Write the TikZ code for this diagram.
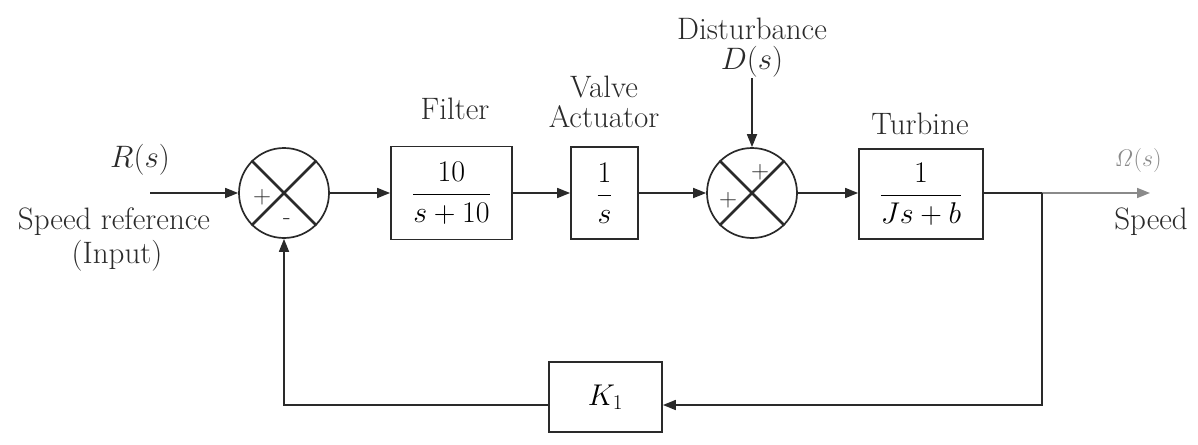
\RequirePackage{fix-cm}
\documentclass[tikz,border=0pt]{standalone}
\usetikzlibrary{arrows.meta,calc}
\definecolor{ink}{HTML}{2A2A2A}
\definecolor{outgray}{HTML}{8A8A8A}
\begin{document}
\begin{tikzpicture}[x=1pt,y=-1pt,
  line/.style={draw=ink, line width=1.7pt},
  arr/.style={line, -{Triangle[length=13pt,width=10pt]}},
  blk/.style={draw=ink, line width=1.8pt, rectangle, inner sep=0pt, font=\fontsize{30}{33}\selectfont},
  sumj/.style={draw=ink, line width=1.7pt, circle, minimum size=90pt, inner sep=0pt},
  xline/.style={draw=ink, line width=2.6pt},
  lbl/.style={font=\fontsize{31}{34}\selectfont, inner sep=0pt, text=ink},
  sgn/.style={font=\fontsize{25}{27}\selectfont, inner sep=0pt, text=ink}
]
\useasboundingbox (0,0) rectangle (1198,444);

% junctions
\node[sumj] (s1) at (284,193) {};
\node[sumj] (s2) at (752,193) {};
\draw[xline] (s1.north west) -- (s1.south east);
\draw[xline] (s1.north east) -- (s1.south west);
\draw[xline] (s2.north west) -- (s2.south east);
\draw[xline] (s2.north east) -- (s2.south west);
\node[sgn] (p1) at (262,197) {+};
\node[sgn] (m1) at (287,222) {-};
\node[sgn] (p2) at (760,172) {+};
\node[sgn] (p3) at (728,200) {+};

% blocks
\node[blk, minimum width=121pt, minimum height=93pt] (filt) at (451.5,193) {$\displaystyle\frac{10}{s+10}$};
\node[blk, minimum width=67pt, minimum height=92pt] (valve) at (604.5,193) {$\displaystyle\frac{1}{s}$};
\node[blk, minimum width=124pt, minimum height=90pt] (turb) at (921,194) {$\displaystyle\frac{1}{Js+b}$};
\node[blk, minimum width=113pt, minimum height=70pt] (k1) at (605.5,397) {$K_1$};

% labels
\node[lbl] (dist) at (752,29) {Disturbance};
\node[lbl] (dlab) at (752,62) {$D(s)$};
\node[lbl] (flab) at (455,109) {Filter};
\node[lbl] (vlab1) at (604,87) {Valve};
\node[lbl] (vlab2) at (604,117) {Actuator};
\node[lbl] (tlab) at (920,124) {Turbine};
\node[lbl] (rlab) at (140,160) {$R(s)$};
\node[lbl] (sref) at (114,222) {Speed reference};
\node[lbl] (inp) at (117,256) {(Input)};
\node[font=\fontsize{24}{26}\selectfont, text=outgray, inner sep=0pt] (om) at (1138,160) {$\mathit{\Omega}(s)$};
\node[lbl] (spd) at (1151,222) {Speed};

% coordinates
\coordinate (rin) at (150,193);
\coordinate (dtop) at (752,78);
\coordinate (br) at (1042,193);
\coordinate (out) at (1150,193);
\coordinate (brd) at (1042,405);
\coordinate (fbl) at (284,405);

% connectors
\draw[arr] (rin) -- (s1.west);
\draw[arr] (s1.east) -- (filt.west);
\draw[arr] (filt.east) -- (valve.west);
\draw[arr] (valve.east) -- (s2.west);
\draw[arr] (s2.east) -- (turb.west |- s2.east);
\draw[arr] (dtop) -- (s2.north);
\draw[line] (turb.east |- br) -- (br);
\draw[line, draw=outgray, -{Triangle[length=13pt,width=10pt]}] (br) -- (out);
\draw[arr] (br) -- (brd) -- (k1.east |- brd);
\draw[arr] (k1.west |- brd) -- (fbl) -- (s1.south);
\end{tikzpicture}
\end{document}
